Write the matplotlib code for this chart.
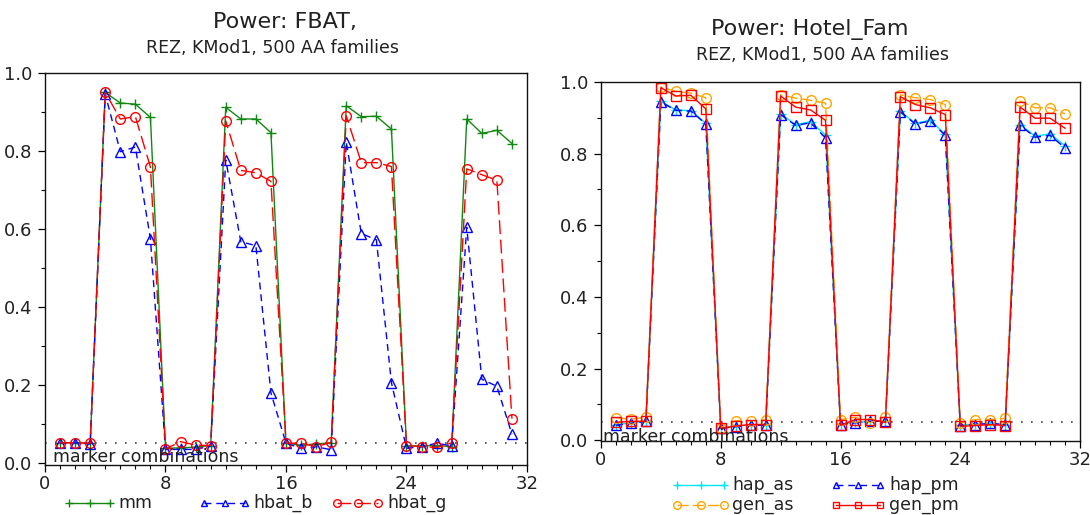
import matplotlib
matplotlib.use("Agg")
import matplotlib.pyplot as plt
from matplotlib.lines import Line2D
from matplotlib.ticker import MultipleLocator

# ---------------- data ----------------
x = list(range(1, 32))

mm = [0.051, 0.051, 0.050, 0.950, 0.923, 0.920, 0.886, 0.037,
      0.038, 0.040, 0.044, 0.912, 0.882, 0.882, 0.847, 0.050,
      0.045, 0.048, 0.051, 0.916, 0.888, 0.889, 0.856, 0.043,
      0.043, 0.044, 0.041, 0.882, 0.845, 0.853, 0.819]
hbat_b = [0.051, 0.051, 0.048, 0.946, 0.798, 0.810, 0.574, 0.034,
          0.034, 0.034, 0.043, 0.777, 0.567, 0.557, 0.179, 0.050,
          0.037, 0.041, 0.033, 0.823, 0.588, 0.572, 0.205, 0.037,
          0.041, 0.050, 0.043, 0.604, 0.214, 0.196, 0.073]
hbat_g = [0.051, 0.051, 0.050, 0.950, 0.882, 0.888, 0.759, 0.035,
          0.054, 0.045, 0.044, 0.877, 0.750, 0.744, 0.722, 0.050,
          0.050, 0.041, 0.052, 0.890, 0.770, 0.770, 0.760, 0.044,
          0.041, 0.039, 0.051, 0.754, 0.739, 0.725, 0.113]

hap_as = [0.044, 0.048, 0.053, 0.946, 0.922, 0.920, 0.885, 0.034,
          0.039, 0.043, 0.043, 0.911, 0.881, 0.889, 0.852, 0.045,
          0.050, 0.053, 0.053, 0.918, 0.885, 0.893, 0.854, 0.042,
          0.045, 0.047, 0.044, 0.881, 0.849, 0.855, 0.822]
hap_pm = [0.042, 0.047, 0.053, 0.944, 0.921, 0.919, 0.883, 0.033,
          0.038, 0.042, 0.042, 0.909, 0.879, 0.886, 0.844, 0.044,
          0.049, 0.053, 0.053, 0.916, 0.883, 0.891, 0.851, 0.041,
          0.044, 0.047, 0.044, 0.879, 0.846, 0.851, 0.816]
gen_as = [0.063, 0.059, 0.064, 0.986, 0.974, 0.969, 0.956, 0.035,
          0.055, 0.054, 0.057, 0.964, 0.955, 0.949, 0.941, 0.058,
          0.064, 0.049, 0.066, 0.964, 0.956, 0.951, 0.937, 0.049,
          0.058, 0.058, 0.061, 0.947, 0.928, 0.928, 0.911]
gen_pm = [0.050, 0.053, 0.053, 0.984, 0.961, 0.963, 0.925, 0.033,
          0.040, 0.044, 0.044, 0.961, 0.930, 0.922, 0.893, 0.042,
          0.058, 0.058, 0.050, 0.959, 0.937, 0.928, 0.909, 0.039,
          0.041, 0.044, 0.041, 0.930, 0.899, 0.899, 0.871]

alpha_level = 0.05
xticks = [0, 8, 16, 24, 32]
yticks = [0.0, 0.2, 0.4, 0.6, 0.8, 1.0]

left_title = "Power: FBAT,"
right_title = "Power: Hotel_Fam"
subtitle = "REZ, KMod1, 500 AA families"
xnote = "marker combinations"

# ---------------- layout ----------------
W, H = 1090, 515
plt.rcParams['font.family'] = ['DejaVu Sans']
TXT = '#222222'
fig = plt.figure(figsize=(W / 100, H / 100), dpi=100)


def fx(px):
    return px / W


def fy(py):
    return 1 - py / H


axL = fig.add_axes([fx(45), fy(465), fx(527) - fx(45), fy(73) - fy(465)])
axR = fig.add_axes([fx(601), fy(441), fx(1080) - fx(601), fy(82) - fy(441)])

green = '#118811'
ms = 6.5

lines_left = [
    (mm, dict(color=green, ls='-', marker='+', ms=ms + 1, mew=1.0)),
    (hbat_b, dict(color='#0000ff', ls=(0, (5, 3.5)), marker='^', ms=ms,
                  mfc='none', mew=1.0)),
    (hbat_g, dict(color='#ff0000', ls=(0, (10, 4)), marker='o', ms=ms + 0.5,
                  mfc='none', mew=1.0)),
]
for ys, st in lines_left:
    axL.plot(x, ys, lw=1.0, **st)

lines_right = [
    (hap_as, dict(color='#00e5ee', ls='-', marker='+', ms=ms + 1, mew=1.0)),
    (hap_pm, dict(color='#0000ff', ls=(0, (5, 3.5)), marker='^', ms=ms,
                  mfc='none', mew=1.0)),
    (gen_as, dict(color='#ffa500', ls=(0, (8, 3)), marker='o', ms=ms + 0.5,
                  mfc='none', mew=1.0)),
    (gen_pm, dict(color='#ff0000', ls='-', marker='s', ms=ms,
                  mfc='none', mew=1.0)),
]
for ys, st in lines_right:
    axR.plot(x, ys, lw=1.0, **st)

for ax, ylo in ((axL, -0.006), (axR, -0.002)):
    ax.axhline(alpha_level, color='#444444', lw=1.2, ls=(0, (1, 5)), zorder=0)
    ax.set_xlim(0, 32)
    ax.set_ylim(ylo, 1.0)
    ax.set_xticks(xticks)
    ax.set_yticks(yticks)
    ax.set_yticklabels([f"{v:.1f}" for v in yticks])
    ax.xaxis.set_minor_locator(MultipleLocator(1))
    ax.yaxis.set_minor_locator(MultipleLocator(0.1))
    ax.tick_params(which='major', direction='out', length=5, width=0.9,
                   labelsize=13, colors='black', labelcolor=TXT, pad=4)
    ax.tick_params(axis='x', which='major', pad=2)
    ax.tick_params(which='minor', direction='out', length=3, width=0.8)
    for sp in ax.spines.values():
        sp.set_linewidth(1.0)
        sp.set_color('#111111')

# titles
fig.text(fx(285), fy(22), left_title, ha='center', va='center', fontsize=16, color=TXT)
fig.text(fx(272), fy(48), subtitle, ha='center', va='center', fontsize=12.5, color=TXT)
fig.text(fx(810), fy(29), right_title, ha='center', va='center', fontsize=16, color=TXT)
fig.text(fx(822), fy(55), subtitle, ha='center', va='center', fontsize=12.5, color=TXT)

# in-plot note
fig.text(fx(53), fy(457), xnote, ha='left', va='center', fontsize=12.5, color=TXT)
fig.text(fx(603), fy(437), xnote, ha='left', va='center', fontsize=12.5, color=TXT)


# legends (drawn below each panel)
def legend_item(x0, x1, y, tx, label, st):
    xs = [fx(x0), fx((x0 + x1) / 2), fx(x1)]
    ys = [fy(y)] * 3
    st = dict(st)
    st['ms'] = st.get('ms', ms) - 1.5
    fig.add_artist(Line2D(xs, ys, transform=fig.transFigure, lw=1.0, **st))
    fig.text(fx(tx), fy(y), label, ha='left', va='center', fontsize=12.5, color=TXT)


names_left = ["mm", "hbat_b", "hbat_g"]
pos_left = [(69, 110, 118), (204, 245, 253), (337, 378, 387)]
for (ys_, st), name, (a, b, t) in zip(lines_left, names_left, pos_left):
    legend_item(a, b, 503, t, name, st)

names_right = ["hap_as", "hap_pm", "gen_as", "gen_pm"]
pos_right = [(677, 724, 732, 485), (836, 880, 889, 485),
             (677, 724, 732, 505), (836, 880, 889, 505)]
for (ys_, st), name, (a, b, t, yy) in zip(lines_right, names_right, pos_right):
    legend_item(a, b, yy, t, name, st)

fig.savefig("out.png", dpi=100)
